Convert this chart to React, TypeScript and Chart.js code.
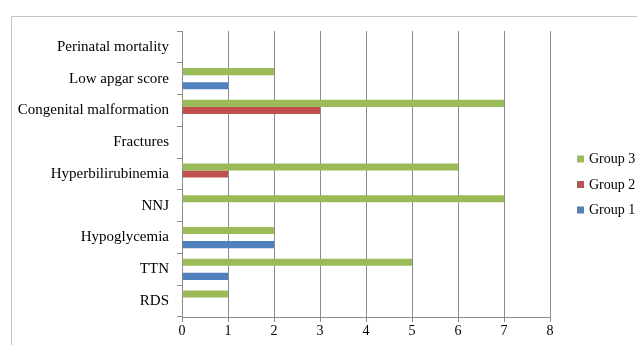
import React, { useEffect, useRef } from "react";
import { Chart, registerables } from "chart.js";

Chart.register(...registerables);

const categories = [
  "Perinatal mortality",
  "Low apgar score",
  "Congenital malformation",
  "Fractures",
  "Hyperbilirubinemia",
  "NNJ",
  "Hypoglycemia",
  "TTN",
  "RDS",
];
const group3 = [0, 2, 7, 0, 6, 7, 2, 5, 1];
const group2 = [0, 0, 3, 0, 1, 0, 0, 0, 0];
const group1 = [0, 1, 0, 0, 0, 0, 2, 1, 0];
const xTicks = [0, 1, 2, 3, 4, 5, 6, 7, 8];

const FONT = "'Liberation Serif', serif";
const GRID = "#8c8c8c";
const TEXT = "#000000";

const framePlugin = {
  id: "frame",
  beforeDraw(chart: any) {
    const ctx = chart.ctx;
    ctx.save();
    ctx.fillStyle = "#ffffff";
    ctx.fillRect(0, 0, chart.width, chart.height);
    ctx.strokeStyle = "#c4c4c4";
    ctx.lineWidth = 1;
    ctx.beginPath();
    ctx.moveTo(11.5, chart.height);
    ctx.lineTo(11.5, 16.5);
    ctx.lineTo(chart.width, 16.5);
    ctx.stroke();
    ctx.restore();
  },
};

const legendPlugin = {
  id: "customLegend",
  afterDraw(chart: any) {
    const ctx = chart.ctx;
    ctx.save();
    ctx.font = `14px ${FONT}`;
    ctx.textBaseline = "middle";
    ctx.textAlign = "left";
    chart.data.datasets.forEach((ds: any, i: number) => {
      const cy = 159 + i * 25.5;
      ctx.fillStyle = ds.backgroundColor;
      ctx.fillRect(577, cy - 3.5, 7, 7);
      ctx.fillStyle = TEXT;
      ctx.fillText(ds.label, 589, cy + 0.5);
    });
    ctx.restore();
  },
};

export default function App() {
  const ref = useRef<HTMLCanvasElement>(null);
  useEffect(() => {
    if (!ref.current) return;
    const chart = new Chart(ref.current, {
      type: "bar",
      data: {
        labels: categories,
        datasets: [
          { label: "Group 3", data: group3, backgroundColor: "#9BBB59" },
          { label: "Group 2", data: group2, backgroundColor: "#C0504D" },
          { label: "Group 1", data: group1, backgroundColor: "#4F81BD" },
        ],
      },
      options: {
        indexAxis: "y",
        responsive: false,
        animation: false,
        datasets: {
          bar: { categoryPercentage: 3 / 4.5, barPercentage: 1 },
        },
        layout: { padding: { left: 0, right: 87, top: 31, bottom: 0 } },
        plugins: { legend: { display: false }, tooltip: { enabled: false } },
        scales: {
          x: {
            type: "linear",
            min: 0,
            max: 8,
            afterBuildTicks: (axis: any) => {
              axis.ticks = xTicks.map((v) => ({ value: v }));
            },
            afterFit: (axis: any) => {
              axis.height = 28;
            },
            grid: { color: GRID, lineWidth: 1, tickLength: 5 },
            border: { color: GRID, width: 1 },
            ticks: {
              color: TEXT,
              padding: 1,
              font: { family: FONT, size: 14 },
            },
          },
          y: {
            afterFit: (axis: any) => {
              axis.width = 182;
            },
            grid: {
              color: GRID,
              drawOnChartArea: false,
              tickLength: 5,
              offset: true,
            },
            border: { color: GRID, width: 1 },
            ticks: {
              color: TEXT,
              padding: 8,
              font: { family: FONT, size: 15 },
            },
          },
        },
      },
      plugins: [framePlugin, legendPlugin],
    });
    return () => chart.destroy();
  }, []);
  return (
    <div style={{ position: "fixed", left: 0, top: 0, width: 637, height: 345, background: "#fff" }}>
      <canvas ref={ref} width={637} height={345} style={{ display: "block" }} />
    </div>
  );
}
